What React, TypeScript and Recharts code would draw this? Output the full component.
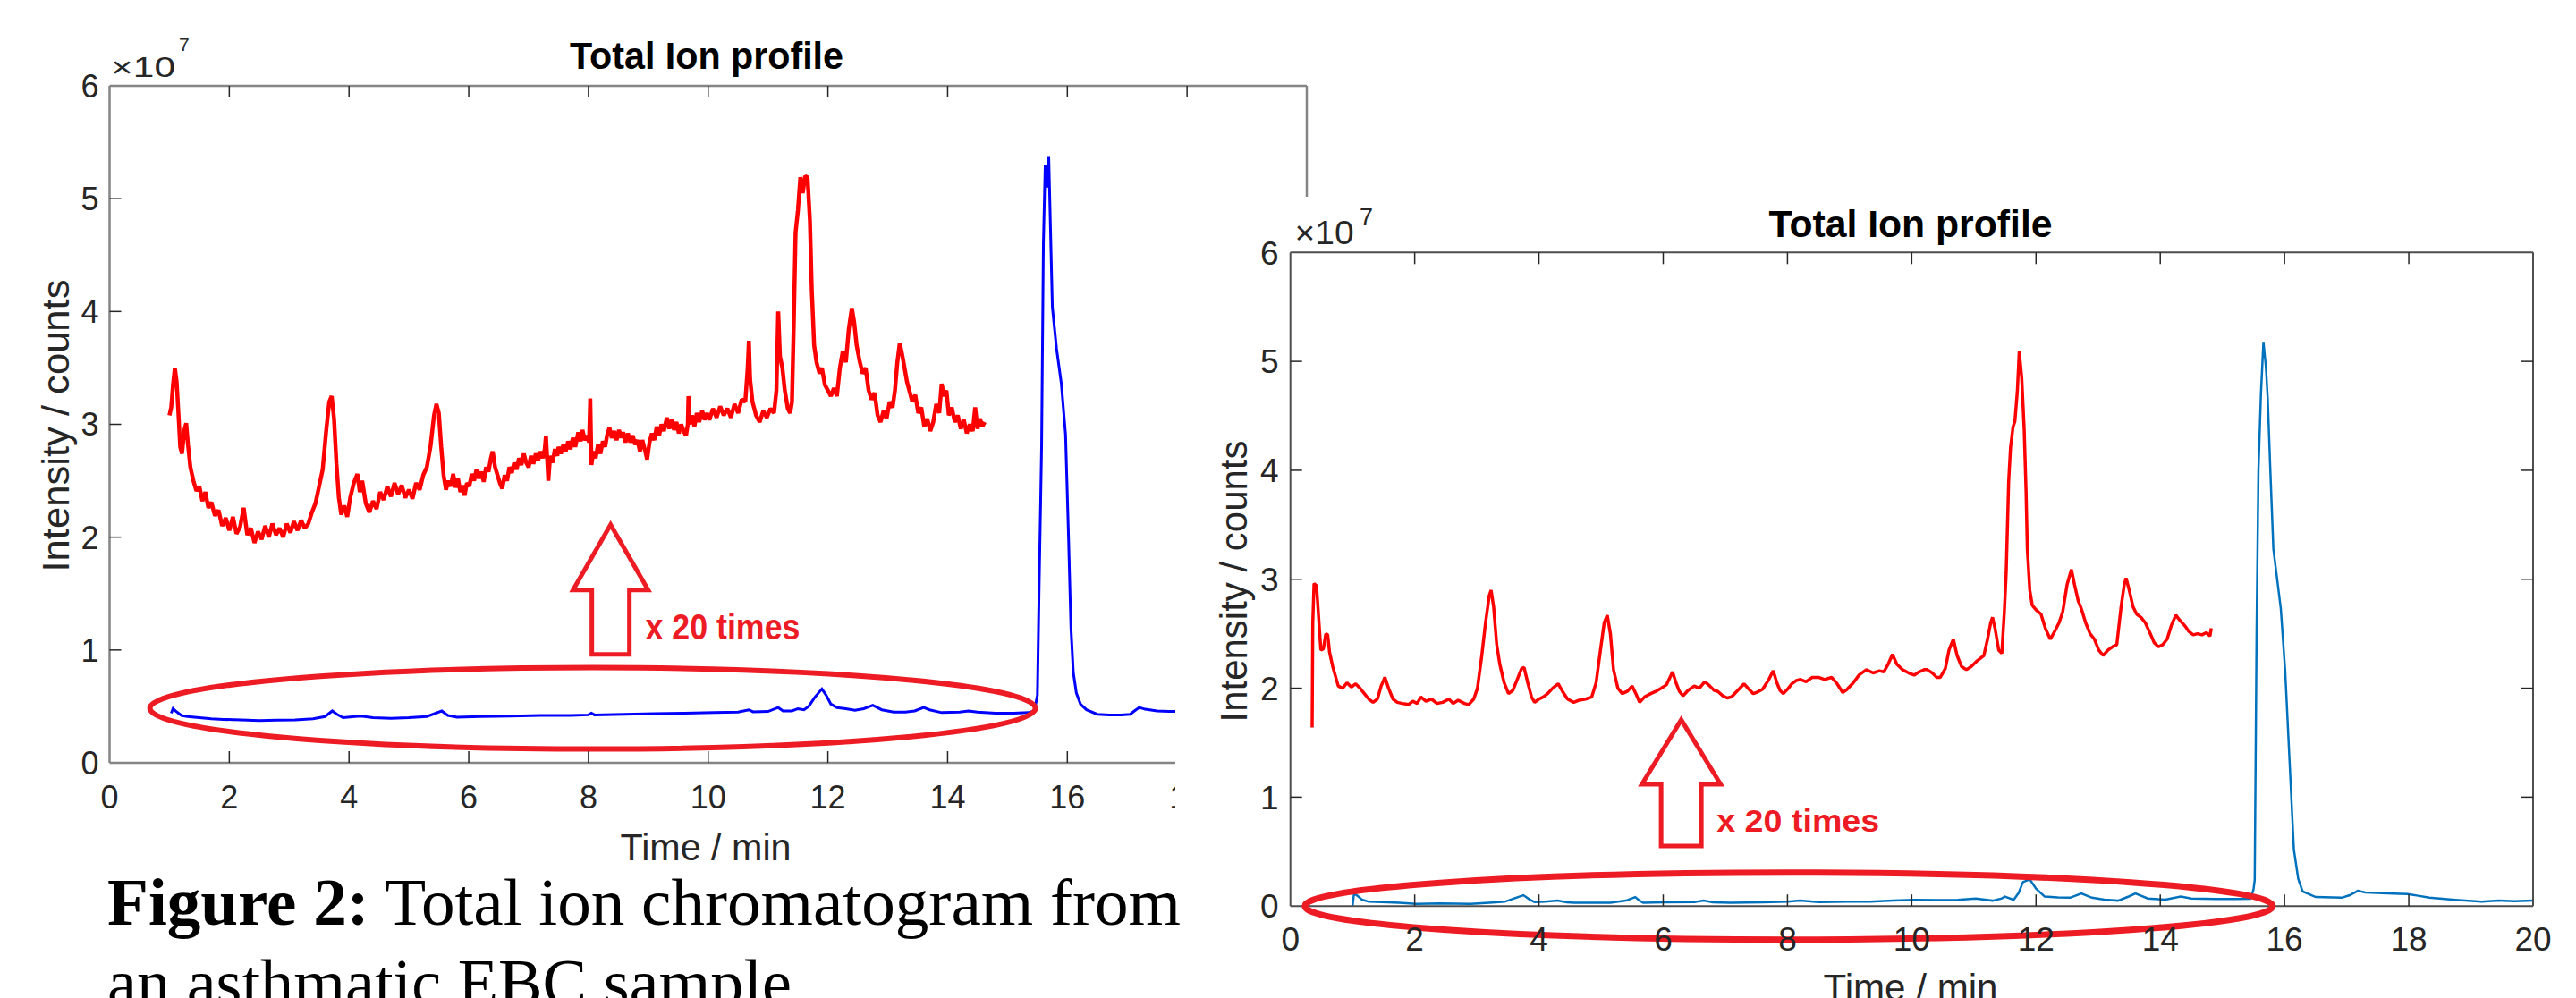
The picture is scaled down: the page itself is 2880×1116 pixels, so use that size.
import React from 'react';
import { LineChart, Line, XAxis, YAxis, ReferenceDot } from 'recharts';

// ---------------- data (intensity in units of 1e7 counts, time in min) ----------------
const timeTicks = [0, 2, 4, 6, 8, 10, 12, 14, 16, 18, 20];
const intensityTicks = [0, 1, 2, 3, 4, 5, 6];

const leftBlue: [number, number][] = [
  [1.03, 0.44], [1.06, 0.48], [1.1, 0.46], [1.2, 0.42], [1.3, 0.41], [1.5, 0.4], [1.7, 0.39], [1.9, 0.385],
  [2.2, 0.38], [2.5, 0.375], [2.8, 0.378], [3.1, 0.38], [3.4, 0.39], [3.6, 0.41], [3.72, 0.46], [3.8, 0.43],
  [3.9, 0.4], [4.1, 0.41], [4.2, 0.415], [4.4, 0.4], [4.7, 0.395], [5.0, 0.4], [5.3, 0.41], [5.45, 0.44],
  [5.55, 0.46], [5.65, 0.42], [5.8, 0.405], [6.2, 0.41], [6.7, 0.415], [7.2, 0.42], [7.7, 0.42], [8.0, 0.425],
  [8.05, 0.44], [8.1, 0.425], [8.6, 0.43], [9.1, 0.435], [9.6, 0.44], [10.1, 0.445], [10.5, 0.45], [10.68, 0.47],
  [10.75, 0.452], [11.0, 0.455], [11.17, 0.49], [11.25, 0.46], [11.4, 0.46], [11.5, 0.48], [11.6, 0.47],
  [11.68, 0.5], [11.78, 0.58], [11.9, 0.655], [11.97, 0.6], [12.05, 0.52], [12.15, 0.49], [12.3, 0.48],
  [12.45, 0.465], [12.6, 0.48], [12.75, 0.51], [12.9, 0.47], [13.1, 0.45], [13.3, 0.45], [13.45, 0.46],
  [13.6, 0.49], [13.7, 0.47], [13.9, 0.445], [14.2, 0.45], [14.35, 0.46], [14.5, 0.45], [14.8, 0.44],
  [15.1, 0.44], [15.35, 0.445], [15.45, 0.46], [15.5, 0.6], [15.53, 1.6], [15.57, 2.8], [15.6, 4.6],
  [15.63, 5.3], [15.66, 5.1], [15.69, 5.37], [15.72, 4.7], [15.75, 4.04], [15.82, 3.67], [15.9, 3.36],
  [15.97, 2.91], [16.02, 2.0], [16.06, 1.2], [16.1, 0.8], [16.15, 0.62], [16.22, 0.52], [16.32, 0.47],
  [16.5, 0.43], [16.7, 0.425], [16.9, 0.425], [17.05, 0.43], [17.12, 0.46], [17.2, 0.49], [17.3, 0.475],
  [17.5, 0.46], [17.7, 0.455], [17.9, 0.455], [18.0, 0.45],
];

const leftRedX20: [number, number][] = [
  [1.0, 3.08], [1.03, 3.15], [1.06, 3.35], [1.09, 3.5], [1.12, 3.38], [1.15, 3.1], [1.18, 2.8], [1.21, 2.74],
  [1.25, 2.95], [1.28, 3.01], [1.31, 2.82], [1.35, 2.62], [1.4, 2.5], [1.45, 2.41], [1.5, 2.45], [1.55, 2.32],
  [1.6, 2.4], [1.65, 2.26], [1.7, 2.31], [1.76, 2.19], [1.82, 2.24], [1.88, 2.1], [1.94, 2.17], [2.0, 2.06],
  [2.06, 2.18], [2.12, 2.03], [2.18, 2.09], [2.24, 2.26], [2.3, 2.02], [2.36, 2.08], [2.42, 1.95], [2.48, 2.05],
  [2.54, 1.98], [2.6, 2.1], [2.66, 2.0], [2.72, 2.12], [2.78, 2.02], [2.84, 2.08], [2.9, 2.0], [2.96, 2.12],
  [3.02, 2.04], [3.08, 2.14], [3.14, 2.06], [3.2, 2.15], [3.26, 2.08], [3.32, 2.12], [3.38, 2.22], [3.44, 2.3],
  [3.5, 2.45], [3.56, 2.6], [3.62, 2.95], [3.67, 3.2], [3.71, 3.25], [3.75, 3.05], [3.79, 2.65], [3.83, 2.35],
  [3.87, 2.2], [3.92, 2.28], [3.97, 2.18], [4.02, 2.35], [4.08, 2.48], [4.14, 2.56], [4.18, 2.4], [4.22, 2.5],
  [4.28, 2.3], [4.34, 2.22], [4.4, 2.32], [4.46, 2.25], [4.52, 2.4], [4.58, 2.33], [4.64, 2.45], [4.7, 2.36],
  [4.76, 2.48], [4.82, 2.38], [4.88, 2.46], [4.94, 2.35], [5.0, 2.42], [5.06, 2.34], [5.12, 2.48], [5.18, 2.42],
  [5.24, 2.55], [5.3, 2.62], [5.36, 2.8], [5.42, 3.08], [5.46, 3.18], [5.5, 3.1], [5.54, 2.8], [5.58, 2.55],
  [5.62, 2.42], [5.66, 2.5], [5.7, 2.45], [5.74, 2.56], [5.78, 2.44], [5.82, 2.52], [5.86, 2.4], [5.9, 2.46],
  [5.93, 2.37], [5.97, 2.48], [6.01, 2.45], [6.05, 2.56], [6.09, 2.5], [6.13, 2.6], [6.17, 2.52], [6.21, 2.58],
  [6.25, 2.49], [6.29, 2.62], [6.33, 2.58], [6.37, 2.7], [6.4, 2.76], [6.44, 2.62], [6.48, 2.55], [6.52, 2.48],
  [6.56, 2.43], [6.6, 2.55], [6.64, 2.5], [6.68, 2.62], [6.72, 2.57], [6.76, 2.66], [6.8, 2.6], [6.84, 2.7],
  [6.88, 2.64], [6.92, 2.74], [6.96, 2.66], [7.0, 2.62], [7.04, 2.72], [7.08, 2.65], [7.12, 2.74], [7.16, 2.68],
  [7.2, 2.76], [7.24, 2.7], [7.27, 2.78], [7.29, 2.9], [7.31, 2.7], [7.33, 2.5], [7.36, 2.72], [7.4, 2.66],
  [7.44, 2.78], [7.48, 2.72], [7.5, 2.8], [7.54, 2.74], [7.58, 2.82], [7.62, 2.76], [7.66, 2.85], [7.7, 2.78],
  [7.74, 2.88], [7.78, 2.8], [7.83, 2.93], [7.87, 2.85], [7.9, 2.95], [7.94, 2.86], [7.98, 2.9], [8.01, 2.84],
  [8.03, 3.23], [8.05, 2.64], [8.08, 2.76], [8.12, 2.7], [8.16, 2.82], [8.2, 2.74], [8.24, 2.85], [8.28, 2.8],
  [8.31, 2.9], [8.35, 2.97], [8.39, 2.88], [8.43, 2.94], [8.47, 2.86], [8.51, 2.95], [8.55, 2.88], [8.58, 2.93],
  [8.62, 2.84], [8.66, 2.92], [8.7, 2.84], [8.74, 2.9], [8.78, 2.82], [8.82, 2.86], [8.86, 2.76], [8.9, 2.86],
  [8.94, 2.78], [8.98, 2.69], [9.02, 2.84], [9.06, 2.92], [9.1, 2.86], [9.14, 2.98], [9.18, 2.9], [9.22, 3.0],
  [9.26, 2.94], [9.31, 3.06], [9.35, 2.96], [9.39, 3.04], [9.43, 2.95], [9.47, 3.02], [9.51, 2.92], [9.55, 3.0],
  [9.59, 2.94], [9.63, 2.9], [9.66, 3.0], [9.67, 3.25], [9.69, 3.0], [9.73, 3.08], [9.77, 2.98], [9.81, 3.1],
  [9.85, 3.02], [9.9, 3.12], [9.94, 3.04], [9.98, 3.1],
  [10.02, 3.04], [10.08, 3.14], [10.14, 3.06], [10.2, 3.16], [10.26, 3.08],
  [10.32, 3.14], [10.38, 3.06], [10.44, 3.18], [10.5, 3.1], [10.56, 3.22], [10.62, 3.2], [10.66, 3.5],
  [10.68, 3.74], [10.7, 3.4], [10.74, 3.2], [10.8, 3.08], [10.86, 3.02], [10.92, 3.12], [10.98, 3.06],
  [11.04, 3.14], [11.1, 3.1], [11.14, 3.3], [11.17, 4.0], [11.2, 3.6], [11.24, 3.5], [11.28, 3.3], [11.33, 3.14],
  [11.37, 3.1], [11.4, 3.2], [11.43, 3.9], [11.46, 4.7], [11.5, 4.9], [11.54, 5.19], [11.58, 5.05], [11.62, 5.2],
  [11.66, 5.19], [11.7, 4.8], [11.73, 4.2], [11.77, 3.7], [11.81, 3.55], [11.86, 3.45], [11.9, 3.5], [11.95, 3.35],
  [12.0, 3.3], [12.05, 3.25], [12.1, 3.32], [12.15, 3.25], [12.2, 3.5], [12.25, 3.65], [12.3, 3.55], [12.35, 3.85],
  [12.4, 4.03], [12.44, 3.9], [12.48, 3.7], [12.53, 3.56], [12.58, 3.45], [12.63, 3.5], [12.68, 3.3],
  [12.73, 3.22], [12.78, 3.28], [12.83, 3.08], [12.88, 3.02], [12.93, 3.12], [12.98, 3.05], [13.03, 3.2],
  [13.08, 3.15], [13.12, 3.3], [13.16, 3.55], [13.2, 3.72], [13.24, 3.62], [13.28, 3.5], [13.32, 3.38],
  [13.36, 3.3], [13.41, 3.2], [13.46, 3.26], [13.51, 3.1], [13.56, 3.15], [13.61, 2.98], [13.66, 3.05],
  [13.71, 2.94], [13.76, 3.02], [13.81, 3.18], [13.86, 3.1], [13.9, 3.36], [13.94, 3.25], [13.98, 3.3],
  [14.02, 3.08], [14.07, 3.15], [14.12, 3.02], [14.17, 3.08], [14.22, 2.96], [14.27, 3.04], [14.32, 2.92],
  [14.37, 3.0], [14.42, 2.94], [14.46, 3.15], [14.5, 2.96], [14.54, 3.05], [14.58, 2.98], [14.62, 3.02],
];

const rightBlue: [number, number][] = [
  [1.0, 0.0], [1.02, 0.1], [1.05, 0.108], [1.15, 0.06], [1.26, 0.04], [1.47, 0.037], [1.75, 0.03], [2.03, 0.02],
  [2.4, 0.025], [2.9, 0.02], [3.2, 0.03], [3.45, 0.04], [3.6, 0.07], [3.75, 0.1], [3.85, 0.06], [3.93, 0.037],
  [4.1, 0.04], [4.3, 0.05], [4.45, 0.035], [4.57, 0.03], [4.85, 0.03], [5.15, 0.03], [5.4, 0.05], [5.55, 0.083],
  [5.62, 0.05], [5.68, 0.03], [6.0, 0.035], [6.5, 0.037], [6.65, 0.05], [6.8, 0.035], [7.08, 0.03], [7.6, 0.035],
  [8.0, 0.04], [8.2, 0.05], [8.5, 0.037], [9.0, 0.04], [9.33, 0.04], [9.7, 0.05], [10.04, 0.057], [10.4, 0.055],
  [10.74, 0.057], [11.03, 0.07], [11.3, 0.05], [11.45, 0.07], [11.5, 0.087], [11.64, 0.057], [11.72, 0.12],
  [11.79, 0.22], [11.9, 0.245], [12.0, 0.16], [12.14, 0.087], [12.35, 0.08], [12.55, 0.077], [12.73, 0.115],
  [12.9, 0.077], [13.1, 0.06], [13.32, 0.05], [13.5, 0.09], [13.6, 0.115], [13.8, 0.07], [14.08, 0.06],
  [14.33, 0.087], [14.5, 0.07], [14.9, 0.065], [15.2, 0.065], [15.45, 0.067], [15.5, 0.15], [15.52, 0.24],
  [15.55, 2.5], [15.58, 4.0], [15.62, 4.7], [15.66, 5.18], [15.7, 4.95], [15.73, 4.65], [15.77, 4.02],
  [15.82, 3.28], [15.94, 2.73], [16.01, 2.16], [16.08, 1.34], [16.15, 0.52], [16.22, 0.25], [16.29, 0.135],
  [16.5, 0.083], [16.92, 0.077], [17.05, 0.1], [17.18, 0.14], [17.3, 0.125], [17.49, 0.12], [17.75, 0.115],
  [17.98, 0.11], [18.15, 0.095], [18.33, 0.077], [18.75, 0.057], [19.17, 0.04], [19.45, 0.05], [19.7, 0.045],
  [20.0, 0.05],
];

const rightRedX20: [number, number][] = [
  [0.35, 1.64], [0.36, 2.6], [0.38, 2.96], [0.42, 2.94], [0.46, 2.6], [0.49, 2.35], [0.53, 2.36], [0.57, 2.5],
  [0.6, 2.49], [0.63, 2.33], [0.68, 2.2], [0.77, 2.02], [0.84, 2.0], [0.91, 2.05], [0.98, 2.01], [1.05, 2.04],
  [1.12, 2.0], [1.19, 1.95], [1.26, 1.9], [1.33, 1.87], [1.4, 1.9], [1.46, 2.02], [1.52, 2.1], [1.58, 2.0],
  [1.65, 1.9], [1.72, 1.87], [1.8, 1.86], [1.9, 1.85], [1.97, 1.88], [2.04, 1.86], [2.1, 1.92], [2.18, 1.88],
  [2.27, 1.9], [2.36, 1.86], [2.45, 1.87], [2.55, 1.9], [2.62, 1.86], [2.7, 1.89], [2.8, 1.86], [2.87, 1.85],
  [2.95, 1.9], [3.01, 2.0], [3.08, 2.3], [3.14, 2.6], [3.2, 2.85], [3.23, 2.9], [3.27, 2.75], [3.32, 2.4],
  [3.37, 2.22], [3.44, 2.05], [3.51, 1.95], [3.58, 1.98], [3.65, 2.08], [3.72, 2.18], [3.76, 2.19], [3.82, 2.05],
  [3.88, 1.92], [3.93, 1.87], [4.0, 1.9], [4.07, 1.92], [4.14, 1.95], [4.22, 2.0], [4.31, 2.04], [4.38, 1.97],
  [4.46, 1.9], [4.56, 1.87], [4.65, 1.89], [4.75, 1.9], [4.85, 1.92], [4.92, 2.05], [4.99, 2.35], [5.05, 2.6],
  [5.1, 2.67], [5.15, 2.5], [5.2, 2.17], [5.27, 2.0], [5.34, 1.95], [5.42, 1.97], [5.5, 2.02], [5.56, 1.95],
  [5.62, 1.87], [5.7, 1.92], [5.8, 1.95], [5.88, 1.97], [5.97, 2.0], [6.05, 2.03], [6.11, 2.1], [6.15, 2.15],
  [6.2, 2.06], [6.26, 1.97], [6.32, 1.93], [6.4, 1.98], [6.5, 2.02], [6.58, 2.0], [6.67, 2.06], [6.75, 2.02],
  [6.82, 1.98], [6.88, 1.97], [6.96, 1.93], [7.03, 1.91], [7.1, 1.92], [7.2, 1.98], [7.3, 2.04], [7.38, 1.99],
  [7.45, 1.95], [7.5, 1.96], [7.6, 1.99], [7.7, 2.08], [7.77, 2.16], [7.83, 2.05], [7.88, 1.98], [7.93, 1.95],
  [8.0, 1.99], [8.07, 2.04], [8.14, 2.07], [8.21, 2.08], [8.3, 2.06], [8.4, 2.1], [8.5, 2.1], [8.6, 2.08],
  [8.71, 2.1], [8.8, 2.04], [8.89, 1.96], [8.96, 1.99], [9.06, 2.05], [9.15, 2.12], [9.27, 2.17], [9.38, 2.14],
  [9.48, 2.16], [9.55, 2.15], [9.62, 2.22], [9.69, 2.31], [9.76, 2.22], [9.85, 2.17], [9.95, 2.14], [10.04, 2.12],
  [10.12, 2.15], [10.2, 2.17], [10.25, 2.17], [10.33, 2.14], [10.4, 2.1], [10.46, 2.1], [10.54, 2.18], [10.6, 2.35],
  [10.67, 2.45], [10.73, 2.3], [10.8, 2.2], [10.88, 2.17], [10.96, 2.2], [11.05, 2.25], [11.16, 2.3], [11.22, 2.45],
  [11.27, 2.6], [11.3, 2.65], [11.34, 2.55], [11.4, 2.35], [11.45, 2.32], [11.49, 2.7], [11.52, 3.06], [11.56, 3.9],
  [11.59, 4.21], [11.63, 4.4], [11.66, 4.45], [11.7, 4.73], [11.73, 5.09], [11.77, 4.85], [11.81, 4.37],
  [11.84, 3.8], [11.86, 3.28], [11.9, 2.9], [11.94, 2.76], [12.0, 2.72], [12.08, 2.68], [12.15, 2.55],
  [12.23, 2.45], [12.3, 2.52], [12.37, 2.6], [12.43, 2.7], [12.5, 2.95], [12.57, 3.09], [12.62, 2.95], [12.68, 2.8],
  [12.73, 2.73], [12.8, 2.6], [12.87, 2.5], [12.94, 2.45], [13.01, 2.35], [13.08, 2.3], [13.16, 2.35],
  [13.23, 2.38], [13.3, 2.4], [13.37, 2.75], [13.42, 2.95], [13.45, 3.01], [13.5, 2.9], [13.56, 2.75],
  [13.62, 2.68], [13.69, 2.65], [13.76, 2.6], [13.84, 2.5], [13.9, 2.42], [13.97, 2.38], [14.04, 2.4],
  [14.11, 2.45], [14.18, 2.58], [14.25, 2.67], [14.32, 2.62], [14.4, 2.57], [14.46, 2.52], [14.53, 2.49],
  [14.6, 2.5], [14.67, 2.49], [14.74, 2.51], [14.8, 2.48], [14.82, 2.55],
];

// annotation anchors (time, intensity)
const leftEllipseAt = { t: 8.07, v: 0.483 };
const leftArrowTipAt = { t: 8.37, v: 2.11 };
const leftNoteAt = { t: 8.95, v: 1.21 };
const rightEllipseAt = { t: 8.02, v: 0.0 };
const rightArrowTipAt = { t: 6.29, v: 1.71 };
const rightNoteAt = { t: 6.86, v: 0.79 };
const noteText = 'x 20 times';
const titleText = 'Total Ion profile';
const yLabelText = 'Intensity / counts';
const xLabelText = 'Time / min';

// ---------------- styling ----------------
const SANS = "'Liberation Sans', Arial, Helvetica, sans-serif";
const SERIF = "'Liberation Serif', 'Times New Roman', serif";
const ANNOT = '#ED1C24';
const TICK_TEXT = '#262626';

const rows = (pairs: [number, number][]) => pairs.map(([t, v]) => ({ t, v }));

type Side = 'bottom' | 'left' | 'top' | 'right';
const makeTick =
  (side: Side, o: { len: number; font: number; gap: number; mark: string; markW: number; ends: number[]; label: boolean }) =>
  (props: any) => {
    const { x, y, payload } = props;
    const v = payload.value;
    const isEnd = o.ends.includes(v);
    let mark: any = null;
    let label: any = null;
    if (side === 'bottom') {
      if (!isEnd) mark = <line x1={x} y1={y} x2={x} y2={y - o.len} stroke={o.mark} strokeWidth={o.markW} />;
      if (o.label)
        label = (
          <text x={x} y={y + o.gap} textAnchor="middle" fontFamily={SANS} fontSize={o.font} fill={TICK_TEXT}>
            {v}
          </text>
        );
    } else if (side === 'top') {
      if (!isEnd) mark = <line x1={x} y1={y} x2={x} y2={y + o.len} stroke={o.mark} strokeWidth={o.markW} />;
    } else if (side === 'left') {
      if (!isEnd) mark = <line x1={x} y1={y} x2={x + o.len} y2={y} stroke={o.mark} strokeWidth={o.markW} />;
      if (o.label)
        label = (
          <text x={x - o.gap} y={y + o.font * 0.358} textAnchor="end" fontFamily={SANS} fontSize={o.font} fill={TICK_TEXT}>
            {v}
          </text>
        );
    } else {
      if (!isEnd) mark = <line x1={x} y1={y} x2={x - o.len} y2={y} stroke={o.mark} strokeWidth={o.markW} />;
    }
    return (
      <g>
        {mark}
        {label}
      </g>
    );
  };

const ellipseShape = (rx: number, ry: number, sw: number) => (p: any) =>
  <ellipse cx={p.cx} cy={p.cy} rx={rx} ry={ry} fill="none" stroke={ANNOT} strokeWidth={sw} />;

const arrowShape = (headH: number, headW: number, shaftW: number, len: number, sw: number) => (p: any) => {
  const { cx, cy } = p;
  const d = `M${cx},${cy} L${cx + headW},${cy + headH} L${cx + shaftW},${cy + headH} L${cx + shaftW},${cy + len} L${cx - shaftW},${cy + len} L${cx - shaftW},${cy + headH} L${cx - headW},${cy + headH} Z`;
  return <path d={d} fill="#fff" stroke={ANNOT} strokeWidth={sw} strokeLinejoin="miter" />;
};

const noteShape = (font: number, width: number) => (p: any) =>
  (
    <text
      x={p.cx}
      y={p.cy + font * 0.36}
      fontFamily={SANS}
      fontWeight="bold"
      fontSize={font}
      fill={ANNOT}
      textLength={width}
      lengthAdjust="spacingAndGlyphs"
    >
      {noteText}
    </text>
  );

interface PanelCfg {
  width: number;
  height: number;
  plot: { top: number; left: number; right: number; bottom: number };
  axisColor: string;
  axisW: number;
  tickFont: number;
  bottomGap: number;
  leftGap: number;
  tickLen: number;
  blue: [number, number][];
  red: [number, number][];
  blueColor: string;
  blueW: number;
  redW: number;
  ellipse: { t: number; v: number };
  ellipseR: [number, number, number];
  arrow: { t: number; v: number };
  arrowDims: [number, number, number, number, number];
  note: { t: number; v: number };
  noteDims: [number, number];
}

function Chromatogram(c: PanelCfg) {
  const common = { mark: '#262626', markW: 1.5, len: c.tickLen, font: c.tickFont };
  // each axis occupies 1px, so subtract it from the outer margins
  const margin = { top: c.plot.top - 1, left: c.plot.left - 1, right: c.plot.right - 1, bottom: c.plot.bottom - 1 };
  return (
    <LineChart width={c.width} height={c.height} margin={margin}>
      <XAxis
        xAxisId="b"
        dataKey="t"
        type="number"
        domain={[0, 20]}
        ticks={timeTicks}
        interval={0}
        allowDataOverflow
        height={1}
        tickSize={0}
        tickMargin={0}
        tickLine={false}
        axisLine={{ stroke: c.axisColor, strokeWidth: c.axisW }}
        tick={makeTick('bottom', { ...common, gap: c.bottomGap, ends: [0, 20], label: true })}
      />
      <XAxis
        xAxisId="t"
        orientation="top"
        dataKey="t"
        type="number"
        domain={[0, 20]}
        ticks={timeTicks}
        interval={0}
        allowDataOverflow
        height={1}
        tickSize={0}
        tickMargin={0}
        tickLine={false}
        axisLine={{ stroke: c.axisColor, strokeWidth: c.axisW }}
        tick={makeTick('top', { ...common, gap: 0, ends: [0, 20], label: false })}
      />
      <YAxis
        yAxisId="l"
        type="number"
        domain={[0, 6]}
        ticks={intensityTicks}
        interval={0}
        allowDataOverflow
        width={1}
        tickSize={0}
        tickMargin={0}
        tickLine={false}
        axisLine={{ stroke: c.axisColor, strokeWidth: c.axisW }}
        tick={makeTick('left', { ...common, gap: c.leftGap, ends: [0, 6], label: true })}
      />
      <YAxis
        yAxisId="r"
        orientation="right"
        type="number"
        domain={[0, 6]}
        ticks={intensityTicks}
        interval={0}
        allowDataOverflow
        width={1}
        tickSize={0}
        tickMargin={0}
        tickLine={false}
        axisLine={{ stroke: c.axisColor, strokeWidth: c.axisW }}
        tick={makeTick('right', { ...common, gap: 0, ends: [0, 6], label: false })}
      />
      <Line
        xAxisId="b"
        yAxisId="l"
        data={rows(c.blue)}
        dataKey="v"
        type="linear"
        stroke={c.blueColor}
        strokeWidth={c.blueW}
        dot={false}
        activeDot={false}
        isAnimationActive={false}
      />
      <Line
        xAxisId="t"
        yAxisId="r"
        data={rows(c.red)}
        dataKey="v"
        type="linear"
        stroke="#FF0000"
        strokeWidth={c.redW}
        strokeLinejoin="bevel"
        dot={false}
        activeDot={false}
        isAnimationActive={false}
      />
      <ReferenceDot
        xAxisId="b"
        yAxisId="l"
        x={c.ellipse.t}
        y={c.ellipse.v}
        r={0}
        ifOverflow="visible"
        shape={ellipseShape(c.ellipseR[0], c.ellipseR[1], c.ellipseR[2])}
      />
      <ReferenceDot
        xAxisId="b"
        yAxisId="l"
        x={c.arrow.t}
        y={c.arrow.v}
        r={0}
        ifOverflow="visible"
        shape={arrowShape(...c.arrowDims)}
      />
      <ReferenceDot
        xAxisId="b"
        yAxisId="l"
        x={c.note.t}
        y={c.note.v}
        r={0}
        ifOverflow="visible"
        shape={noteShape(c.noteDims[0], c.noteDims[1])}
      />
    </LineChart>
  );
}

const abs = (left: number, top: number, extra: any = {}) => ({ position: 'absolute' as const, left, top, ...extra });

export default function App() {
  return (
    <div style={abs(0, 0, { width: 2880, height: 1116, background: '#fff', overflow: 'hidden' })}>
      {/* left figure */}
      <div style={abs(0, 0)}>
        <Chromatogram
          width={1500}
          height={1000}
          plot={{ top: 96, left: 122.5, right: 39, bottom: 147 }}
          axisColor="#858585"
          axisW={2.5}
          tickFont={36}
          bottomGap={51}
          leftGap={12}
          tickLen={13}
          blue={leftBlue}
          red={leftRedX20}
          blueColor="#0000FF"
          blueW={3}
          redW={4.5}
          ellipse={leftEllipseAt}
          ellipseR={[495, 45.5, 6]}
          arrow={leftArrowTipAt}
          arrowDims={[73, 42, 21, 145, 5]}
          note={leftNoteAt}
          noteDims={[40, 173]}
        />
      </div>
      <svg style={abs(0, 0)} width={1314} height={1000}>
        <text x={790} y={77} textAnchor="middle" fontFamily={SANS} fontWeight="bold" fontSize={42} fill="#000" textLength={306} lengthAdjust="spacingAndGlyphs">
          {titleText}
        </text>
        <text x={124} y={86} fontFamily={SANS} fontSize={31} fill={TICK_TEXT} textLength={72} lengthAdjust="spacingAndGlyphs">
          ×10
        </text>
        <text x={200} y={57} fontFamily={SANS} fontSize={21} fill={TICK_TEXT}>
          7
        </text>
        <text transform="translate(76.5,476) rotate(-90)" textAnchor="middle" fontFamily={SANS} fontSize={43} fill={TICK_TEXT} textLength={327} lengthAdjust="spacingAndGlyphs">
          {yLabelText}
        </text>
        <text x={789} y={962} textAnchor="middle" fontFamily={SANS} fontSize={42} fill={TICK_TEXT} textLength={191} lengthAdjust="spacingAndGlyphs">
          {xLabelText}
        </text>
      </svg>

      {/* right figure pasted on top */}
      <div style={abs(1314, 220, { width: 1566, height: 896, background: '#fff' })}>
        <Chromatogram
          width={1566}
          height={896}
          plot={{ top: 62.3, left: 128.7, right: 48, bottom: 102.8 }}
          axisColor="#4d4d4d"
          axisW={2}
          tickFont={37}
          bottomGap={50}
          leftGap={13}
          tickLen={13}
          blue={rightBlue}
          red={rightRedX20}
          blueColor="#0072BD"
          blueW={2.5}
          redW={3.5}
          ellipse={rightEllipseAt}
          ellipseR={[541, 37.5, 7]}
          arrow={rightArrowTipAt}
          arrowDims={[72, 44, 22.5, 141, 5]}
          note={rightNoteAt}
          noteDims={[35, 182]}
        />
      </div>
      <svg style={abs(0, 0)} width={2880} height={1116}>
        <text x={2136} y={265} textAnchor="middle" fontFamily={SANS} fontWeight="bold" fontSize={42} fill="#000" textLength={317} lengthAdjust="spacingAndGlyphs">
          {titleText}
        </text>
        <text x={1447.6} y={273} fontFamily={SANS} fontSize={36} fill={TICK_TEXT} textLength={66} lengthAdjust="spacingAndGlyphs">
          ×10
        </text>
        <text x={1520} y={252} fontFamily={SANS} fontSize={27} fill={TICK_TEXT}>
          7
        </text>
        <text transform="translate(1394,650) rotate(-90)" textAnchor="middle" fontFamily={SANS} fontSize={42} fill={TICK_TEXT} textLength={315} lengthAdjust="spacingAndGlyphs">
          {yLabelText}
        </text>
        <text x={2136} y={1119} textAnchor="middle" fontFamily={SANS} fontSize={42} fill={TICK_TEXT} textLength={195} lengthAdjust="spacingAndGlyphs">
          {xLabelText}
        </text>
        {/* caption */}
        <text x={120} y={1034} fontFamily={SERIF} fontSize={74} fill="#000" textLength={1200} lengthAdjust="spacingAndGlyphs">
          <tspan fontWeight="bold">Figure 2:</tspan> Total ion chromatogram from
        </text>
        <text x={120} y={1124} fontFamily={SERIF} fontSize={74} fill="#000" textLength={765} lengthAdjust="spacingAndGlyphs">
          an asthmatic EBC sample
        </text>
      </svg>
    </div>
  );
}
